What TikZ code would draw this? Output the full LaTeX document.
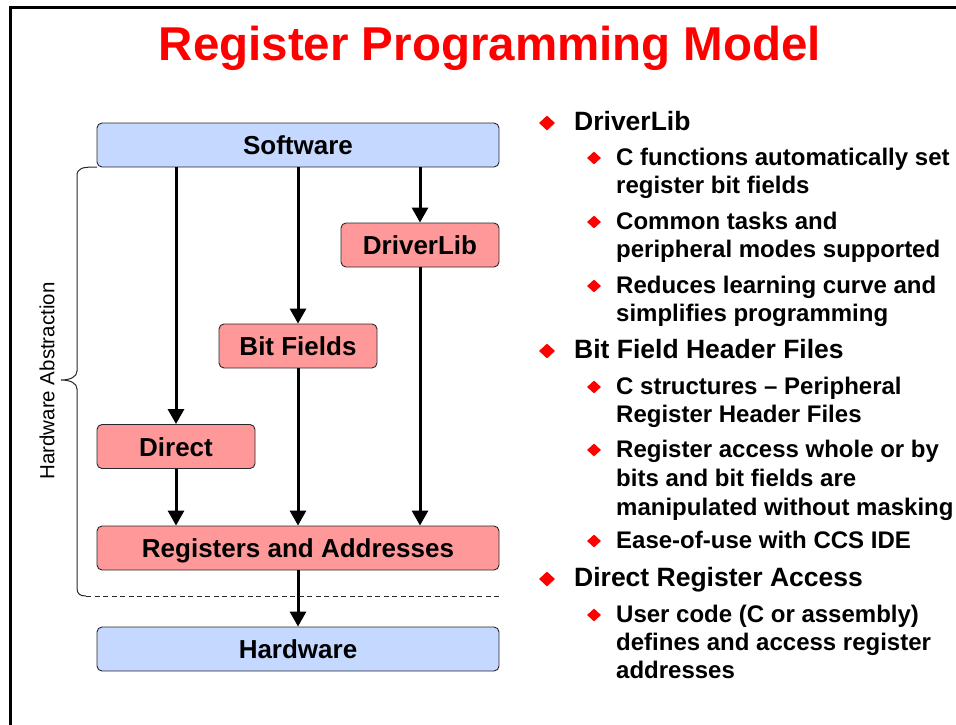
\documentclass[tikz,border=0pt]{standalone}
\usepackage{fontspec}
\setmainfont{Liberation Sans}
\usetikzlibrary{arrows.meta,shapes.geometric}
\definecolor{boxblue}{RGB}{197,216,255}
\definecolor{boxred}{RGB}{255,153,153}
\definecolor{edge}{RGB}{40,40,40}
\tikzset{
  box/.style={draw=edge, line width=0.9pt, rounded corners=5pt, minimum height=44pt,
    inner sep=0pt, text height=19pt, text depth=0pt,
    font=\bfseries\fontsize{26}{30}\selectfont},
  bluebox/.style={box, fill=boxblue},
  redbox/.style={box, fill=boxred},
  arr/.style={line width=3pt, -{Triangle[width=16pt,length=15pt]}},
  lone/.style={anchor=base west, inner sep=0pt, font=\bfseries\fontsize{26.5}{30}\selectfont},
  ltwo/.style={anchor=base west, inner sep=0pt, font=\bfseries\fontsize{24}{28}\selectfont},
  done/.style={diamond, fill=red, inner sep=0pt, minimum width=16pt, minimum height=15pt},
  dtwo/.style={diamond, fill=red, inner sep=0pt, minimum width=14pt, minimum height=13pt},
}
\begin{document}
\begin{tikzpicture}[x=1pt,y=-1pt]
\useasboundingbox (0,0) rectangle (956,725);
\fill[white] (0,0) rectangle (956,725);
% frame
\draw[line width=3pt] (10,725) -- (10,8) -- (956,8);
% title
\node[anchor=base, inner sep=0pt, text=red, font=\bfseries\fontsize{47.5}{56}\selectfont] (title) at (490,60) {Register Programming Model};

% boxes
\node[bluebox, minimum width=402pt] (sw) at (298,145) {Software};
\node[redbox, minimum width=158pt] (dl) at (420,245) {DriverLib};
\node[redbox, minimum width=158pt] (bf) at (298,346) {Bit Fields};
\node[redbox, minimum width=158pt] (di) at (176,446.5) {Direct};
\node[redbox, minimum width=402pt] (ra) at (298,548) {Registers and Addresses};
\node[bluebox, minimum width=402pt] (hw) at (298,649) {Hardware};

% arrows
\draw[arr] (sw.south -| dl.north) -- (dl.north);
\draw[arr] (sw.south) -- (bf.north);
\draw[arr] (sw.south -| di.north) -- (di.north);
\draw[arr] (dl.south) -- (ra.north -| dl.south);
\draw[arr] (bf.south) -- (ra.north);
\draw[arr] (di.south) -- (ra.north -| di.south);
\draw[arr] (ra.south) -- (hw.north);

% brace and dashed boundary
\coordinate (btop) at (97,167);
\coordinate (btip) at (61,380);
\coordinate (bbot) at (86,596);
\coordinate (dend) at (499,596);
\draw[line width=1pt, edge] (btop) .. controls (82,167) and (77,168) .. (77,176)
  -- (77,371) .. controls (77,377) and (70,380) .. (btip)
  .. controls (70,380) and (77,383) .. (77,389)
  -- (77,588) .. controls (77,594) and (80,596) .. (bbot);
\draw[line width=1pt, edge, dash pattern=on 5pt off 3.5pt] (bbot) -- (dend);
\node[rotate=90, inner sep=0pt, font=\fontsize{20.5}{24}\selectfont] (ha) at (47,381) {Hardware Abstraction};

% right column
\node[done] (b1) at (547,123) {};
\node[lone] (t1) at (574,130) {DriverLib};
\node[dtwo] (b11) at (594,158) {};
\node[ltwo] (t11a) at (616,165) {C functions automatically set};
\node[ltwo] (t11b) at (616,193) {register bit fields};
\node[dtwo] (b12) at (594,222) {};
\node[ltwo] (t12a) at (616,229) {Common tasks and};
\node[ltwo] (t12b) at (616,257) {peripheral modes supported};
\node[dtwo] (b13) at (594,286) {};
\node[ltwo] (t13a) at (616,293) {Reduces learning curve and};
\node[ltwo] (t13b) at (616,321) {simplifies programming};

\node[done] (b2) at (547,351) {};
\node[lone] (t2) at (574,358) {Bit Field Header Files};
\node[dtwo] (b21) at (594,387) {};
\node[ltwo] (t21a) at (616,394) {C structures – Peripheral};
\node[ltwo] (t21b) at (616,422) {Register Header Files};
\node[dtwo] (b22) at (594,450) {};
\node[ltwo] (t22a) at (616,457) {Register access whole or by};
\node[ltwo] (t22b) at (616,486) {bits and bit fields are};
\node[ltwo] (t22c) at (616,515) {manipulated without masking};
\node[dtwo] (b23) at (594,541) {};
\node[ltwo] (t23) at (616,548) {Ease-of-use with CCS IDE};

\node[done] (b3) at (547,579) {};
\node[lone] (t3) at (574,586) {Direct Register Access};
\node[dtwo] (b31) at (594,615) {};
\node[ltwo] (t31a) at (616,622) {User code (C or assembly)};
\node[ltwo] (t31b) at (616,650) {defines and access register};
\node[ltwo] (t31c) at (616,678) {addresses};
\end{tikzpicture}
\end{document}
